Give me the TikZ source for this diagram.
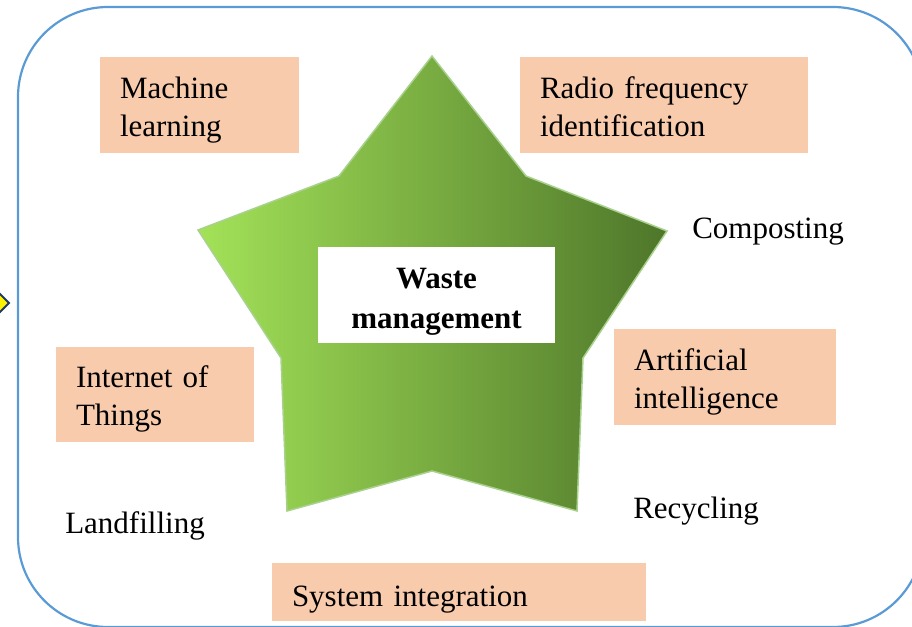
\documentclass[tikz,border=0pt]{standalone}
\usepackage{fontspec}
\setmainfont{Liberation Serif}
\definecolor{peach}{HTML}{F8CBAD}
\definecolor{frame}{HTML}{5B9BD5}
\definecolor{glight}{HTML}{A3E258}
\definecolor{gmid}{HTML}{84BA48}
\definecolor{gdark}{HTML}{4E762A}
\definecolor{gedge}{HTML}{A9D18E}
\definecolor{navy}{HTML}{1F3864}
\tikzset{
  bx/.style={fill=peach,anchor=base,inner xsep=20pt,inner ysep=0pt,align=left,
    text height=41pt,text depth=55pt,font=\fontsize{31}{38}\selectfont},
  tx/.style={anchor=base west,inner sep=0pt,font=\fontsize{31}{38}\selectfont},
  every picture/.style={line width=0.5pt},
}
\begin{document}
\begin{tikzpicture}[x=1pt,y=-1pt]
\useasboundingbox (0,0) rectangle (912,626);
\clip (0,0) rectangle (912,626);
\draw[frame,line width=2.2pt,rounded corners=90pt] (18,7) rectangle (923,627);
\draw[navy,line width=2pt,fill=yellow] (-13,303)--(-2,292)--(9,303)--(-2,314)--cycle;
% star
\draw[gedge,line width=1.5pt,left color=glight,middle color=gmid,right color=gdark]
 (432,56)--(526,176)--(667,231)--(583,358)--(577,511)--(432,471)--(287,511)--(281,358)--(198,230)--(339,176)--cycle;
\node[fill=white,anchor=base,minimum width=237pt,inner ysep=0pt,text height=81pt,text depth=15pt,
  align=center,font=\bfseries\fontsize{31}{40}\selectfont] (wm) at (436.5,328) {Waste\\management};
% boxes
\node[bx,text width=159pt] (ml) at (199.5,98) {Machine\\learning};
\node[bx,text width=248pt] (rf) at (664,98) {Radio frequency\\identification};
\node[bx,text width=158pt,text height=40pt] (iot) at (155,387) {Internet of\\Things};
\node[bx,text width=182pt] (ai) at (725,370) {Artificial\\intelligence};
\node[bx,text width=334pt,text height=43pt,text depth=15pt] (si) at (459,606) {System integration};
% plain labels
\node[tx] (cp) at (692,238) {Composting};
\node[tx] (rc) at (633,518) {Recycling};
\node[tx] (lf) at (65,533) {Landfilling};
\end{tikzpicture}
\end{document}
